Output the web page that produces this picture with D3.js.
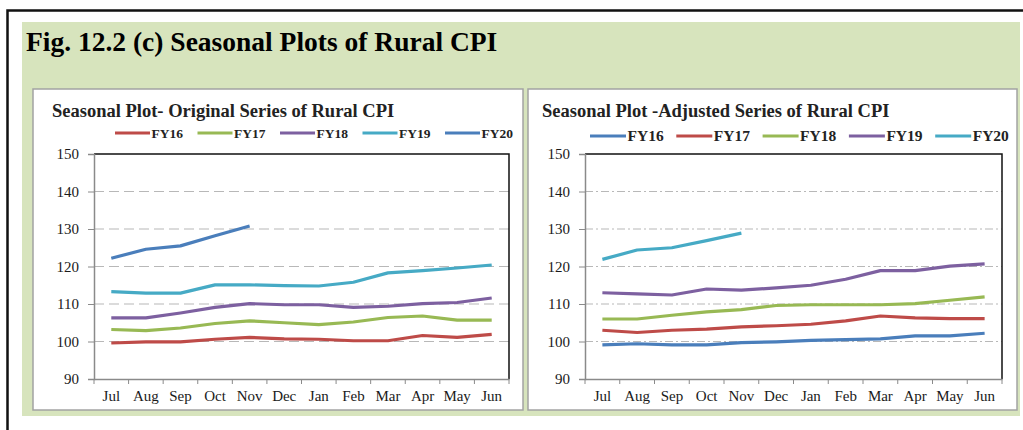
<!DOCTYPE html>
<html>
<head>
<meta charset="utf-8">
<script src="https://cdn.jsdelivr.net/npm/d3@7"></script>
<style>
  body { margin: 0; background: #fff; }
  svg { display: block; }
</style>
</head>
<body>
<div id="chart"></div>
<script>
// month categories and tick values
const months = ['Jul', 'Aug', 'Sep', 'Oct', 'Nov', 'Dec', 'Jan', 'Feb', 'Mar', 'Apr', 'May', 'Jun'];
const seriesNames = ['FY16', 'FY17', 'FY18', 'FY19', 'FY20'];
const yTicks = [90, 100, 110, 120, 130, 140, 150];

// original series of rural CPI
const origFY16 = [99.6, 99.9, 99.9, 100.6, 101.1, 100.7, 100.6, 100.2, 100.2, 101.6, 101.1, 101.9];
const origFY17 = [103.2, 102.9, 103.6, 104.8, 105.5, 105.0, 104.5, 105.2, 106.4, 106.8, 105.7, 105.7];
const origFY18 = [106.3, 106.3, 107.6, 109.1, 110.1, 109.8, 109.8, 109.1, 109.4, 110.1, 110.4, 111.6];
const origFY19 = [113.3, 112.9, 112.9, 115.1, 115.1, 114.9, 114.8, 115.8, 118.3, 118.9, 119.6, 120.4];
const origFY20 = [122.2, 124.6, 125.5, 128.2, 130.8];

// seasonally adjusted series of rural CPI
const adjFY16 = [99.1, 99.4, 99.1, 99.1, 99.7, 99.9, 100.3, 100.5, 100.7, 101.5, 101.5, 102.2];
const adjFY17 = [103.0, 102.4, 103.0, 103.3, 103.9, 104.2, 104.6, 105.5, 106.8, 106.3, 106.1, 106.1];
const adjFY18 = [106.0, 106.0, 107.0, 107.9, 108.5, 109.6, 109.8, 109.8, 109.8, 110.1, 111.0, 111.9];
const adjFY19 = [113.0, 112.7, 112.4, 114.0, 113.7, 114.3, 115.0, 116.6, 118.9, 118.9, 120.1, 120.7];
const adjFY20 = [121.9, 124.4, 125.0, 126.9, 128.9];

const C = {
  red: '#be4b48', green: '#98b954', purple: '#7d60a0', cyan: '#46aac5', blue: '#4a7ebb'
};

const width = 1023;
const height = 430;
const serif = '"Liberation Serif", "Times New Roman", serif';

const svg = d3.select('#chart')
  .append('svg')
  .attr('width', width)
  .attr('height', height);

// outer frame + green background
svg.append('rect').attr('x', 0).attr('y', 0).attr('width', width).attr('height', height).attr('fill', '#fff');
svg.append('path')
  .attr('d', `M7.5,${height} V10.5 H${width}`)
  .attr('fill', 'none').attr('stroke', '#111').attr('stroke-width', 2.5);
svg.append('rect')
  .attr('x', 22).attr('y', 22).attr('width', 998).attr('height', 394)
  .attr('fill', '#d7e4bd');

svg.append('text')
  .attr('x', 26).attr('y', 51)
  .attr('font-family', serif).attr('font-weight', 'bold').attr('font-size', 27.5)
  .attr('fill', '#000')
  .text('Fig. 12.2 (c) Seasonal Plots of Rural CPI');

const y = d3.scaleLinear().domain([90, 150]).range([379, 154]);

function drawPanel(cfg) {
  const g = svg.append('g');

  g.append('rect')
    .attr('x', cfg.box[0]).attr('y', cfg.box[1])
    .attr('width', cfg.box[2]).attr('height', cfg.box[3])
    .attr('fill', '#fff').attr('stroke', '#a3a3a3').attr('stroke-width', 1.5);

  g.append('text')
    .attr('x', cfg.titleX).attr('y', 117)
    .attr('font-family', serif).attr('font-weight', 'bold').attr('font-size', 18.5)
    .attr('fill', '#222')
    .text(cfg.title);

  const x = d3.scaleBand().domain(months).range(cfg.xRange);
  const x0 = cfg.xRange[0], x1 = cfg.xRange[1];

  // gridlines
  g.append('g')
    .selectAll('line')
    .data(yTicks.filter(v => v > 90 && v < 150))
    .join('line')
      .attr('x1', x0).attr('x2', x1)
      .attr('y1', d => y(d)).attr('y2', d => y(d))
      .attr('stroke', '#b8b8b8').attr('stroke-width', 1.2)
      .attr('stroke-dasharray', cfg.dash);

  // plot border top/right
  g.append('path')
    .attr('d', `M${x0},${y(150)} H${x1} V${y(90)}`)
    .attr('fill', 'none').attr('stroke', '#111').attr('stroke-width', 1.5);

  // y axis
  const ya = g.append('g')
    .attr('transform', `translate(${x0},0)`)
    .call(d3.axisLeft(y).tickValues(yTicks).tickSize(6).tickPadding(9));
  ya.select('.domain').attr('stroke', '#8a8a8a').attr('stroke-width', 1.5);
  ya.selectAll('.tick line').attr('stroke', '#8a8a8a');
  ya.selectAll('text').attr('font-family', serif).attr('font-size', 15).attr('fill', '#1a1a1a');

  // x axis, labels at band centres, ticks on band edges
  const xa = g.append('g')
    .attr('transform', `translate(0,${y(90)})`)
    .call(d3.axisBottom(x).tickSize(0).tickPadding(11));
  xa.select('.domain').attr('stroke', '#8a8a8a').attr('stroke-width', 1.5);
  xa.selectAll('text').attr('font-family', serif).attr('font-size', 15).attr('fill', '#1a1a1a');
  xa.append('g')
    .selectAll('line')
    .data(months.map(m => x(m)).concat([x1]))
    .join('line')
      .attr('x1', d => d).attr('x2', d => d)
      .attr('y1', 0).attr('y2', 5)
      .attr('stroke', '#8a8a8a');

  const line = d3.line()
    .x((d, i) => x(months[i]) + x.bandwidth() / 2)
    .y(d => y(d));

  g.append('g')
    .selectAll('path')
    .data(cfg.series)
    .join('path')
      .attr('d', d => line(d.values))
      .attr('fill', 'none')
      .attr('stroke', d => d.color)
      .attr('stroke-width', 3.2)
      .attr('stroke-linejoin', 'round');

  // legend
  const lg = g.append('g')
    .selectAll('g')
    .data(cfg.series)
    .join('g')
      .attr('transform', (d, i) => `translate(${cfg.legX + i * cfg.legStep},${cfg.legY})`);
  lg.append('line')
    .attr('x1', 0).attr('x2', cfg.legLine)
    .attr('stroke', d => d.color).attr('stroke-width', 3.2);
  lg.append('text')
    .attr('x', cfg.legLine + 1.5).attr('dy', '0.35em')
    .attr('font-family', serif).attr('font-weight', 'bold').attr('font-size', cfg.legFont)
    .attr('fill', '#222')
    .text(d => d.name);
}

drawPanel({
  box: [33, 89, 490, 321],
  title: 'Seasonal Plot- Original Series of Rural CPI',
  titleX: 52,
  xRange: [94, 509],
  dash: '10,5',
  legX: 115, legY: 133, legStep: 82.5, legLine: 35, legFont: 13.5,
  series: [
    { name: seriesNames[0], values: origFY16, color: C.red },
    { name: seriesNames[1], values: origFY17, color: C.green },
    { name: seriesNames[2], values: origFY18, color: C.purple },
    { name: seriesNames[3], values: origFY19, color: C.cyan },
    { name: seriesNames[4], values: origFY20, color: C.blue }
  ]
});

drawPanel({
  box: [528, 89, 489, 321],
  title: 'Seasonal Plot -Adjusted Series of Rural CPI',
  titleX: 542,
  xRange: [585, 1002],
  dash: '8,3,2,3',
  legX: 590, legY: 136, legStep: 86.3, legLine: 36, legFont: 15.5,
  series: [
    { name: seriesNames[0], values: adjFY16, color: C.blue },
    { name: seriesNames[1], values: adjFY17, color: C.red },
    { name: seriesNames[2], values: adjFY18, color: C.green },
    { name: seriesNames[3], values: adjFY19, color: C.purple },
    { name: seriesNames[4], values: adjFY20, color: C.cyan }
  ]
});
</script>
</body>
</html>
